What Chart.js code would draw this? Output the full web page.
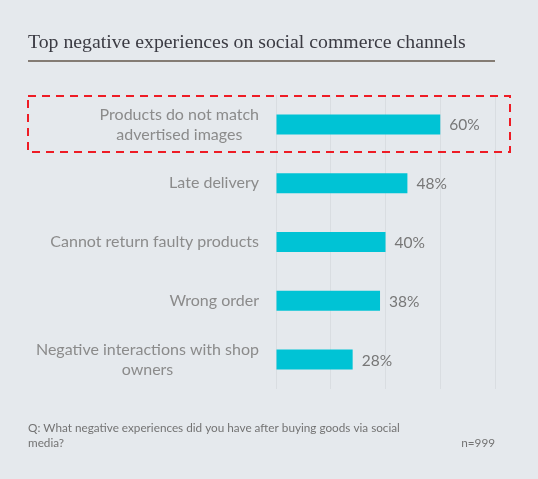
<!DOCTYPE html>
<html>
<head>
<meta charset="utf-8">
<script src="https://cdn.jsdelivr.net/npm/chart.js@4/dist/chart.umd.min.js"></script>
<style>
  html, body { margin: 0; padding: 0; background: #e5e9ed; }
  #wrap { width: 538px; height: 479px; }
</style>
</head>
<body>
<div id="wrap"><canvas id="chart" width="538" height="479"></canvas></div>
<script>
const title = 'Top negative experiences on social commerce channels'
const categories = [
  ['Products do not match', 'advertised images'],
  ['Late delivery'],
  ['Cannot return faulty products'],
  ['Wrong order'],
  ['Negative interactions with shop', 'owners']
]
const values = [60, 48, 40, 38, 28]
const xTicks = [0, 20, 40, 60, 80]
const footnote = ['Q: What negative experiences did you have after buying goods via social', 'media?']
const sampleSize = 'n=999'

const bg = '#e5e9ed', barColor = '#00c3d5'
const labelFont = '16px Lato', valueFont = '15.5px Lato'

// shrink/grow a font so the text fills a given width
const fitFont = (ctx, text, family, width) => {
  ctx.font = `20px ${family}`
  const size = 20 * width / ctx.measureText(text).width
  return `${size.toFixed(2)}px ${family}`
}

const decorations = {
  id: 'decorations',
  beforeDraw: (chart) => {
    const ctx = chart.ctx
    ctx.save()
    ctx.fillStyle = bg
    ctx.fillRect(0, 0, chart.width, chart.height)

    // title + rule
    ctx.fillStyle = '#3b3b43'
    ctx.font = fitFont(ctx, title, '"Liberation Serif"', 438)
    ctx.textBaseline = 'alphabetic'
    ctx.textAlign = 'left'
    ctx.fillText(title, 28, 48)
    ctx.fillStyle = '#847c74'
    ctx.fillRect(28, 60, 467, 2)

    // footnote
    ctx.fillStyle = '#737373'
    ctx.font = fitFont(ctx, footnote[0], 'Lato', 372)
    ctx.textBaseline = 'middle'
    footnote.forEach((line, i) => ctx.fillText(line, 28, 428 + i * 15))
    ctx.textAlign = 'right'
    ctx.fillText(sampleSize, 495, 443)
    ctx.restore()
  },
  afterDraw: (chart) => {
    const ctx = chart.ctx
    const y = chart.scales.y
    const meta = chart.getDatasetMeta(0)
    ctx.save()
    ctx.textBaseline = 'middle'

    // category labels: lines centred on each other, widest line ends at 259
    ctx.font = labelFont
    ctx.fillStyle = '#8b8b8b'
    ctx.textAlign = 'center'
    categories.forEach((lines, i) => {
      const cy = y.getPixelForValue(i)
      const widest = Math.max(...lines.map(l => ctx.measureText(l).width))
      const cx = 259 - widest / 2
      lines.forEach((line, j) => ctx.fillText(line, cx, cy + (j - (lines.length - 1) / 2) * 20))
    })

    // value labels
    ctx.font = valueFont
    ctx.fillStyle = '#777777'
    ctx.textAlign = 'left'
    meta.data.forEach((bar, i) => ctx.fillText(values[i] + '%', bar.x + 9, bar.y + 1))

    // highlight box round the first category
    ctx.strokeStyle = '#ee1c25'
    ctx.lineWidth = 2
    ctx.setLineDash([8, 6])
    ctx.strokeRect(28, 96, 482, 56)
    ctx.restore()
  }
}

new Chart(document.getElementById('chart'), {
  type: 'bar',
  data: {
    labels: categories,
    datasets: [{
      data: values,
      backgroundColor: barColor,
      borderWidth: 0,
      barPercentage: 0.34,
      categoryPercentage: 1
    }]
  },
  options: {
    indexAxis: 'y',
    responsive: false,
    animation: false,
    layout: { padding: { left: 276, right: 43, top: 95, bottom: 90 } },
    scales: {
      x: {
        min: 0,
        max: 80,
        afterBuildTicks: (scale) => { scale.ticks = xTicks.map(v => ({ value: v })) },
        ticks: { display: false },
        border: { display: false },
        grid: { color: '#d9dde1', drawTicks: false, lineWidth: 1 }
      },
      y: { display: false }
    },
    plugins: {
      legend: { display: false },
      tooltip: { enabled: false }
    }
  },
  plugins: [decorations]
})
</script>
</body>
</html>
